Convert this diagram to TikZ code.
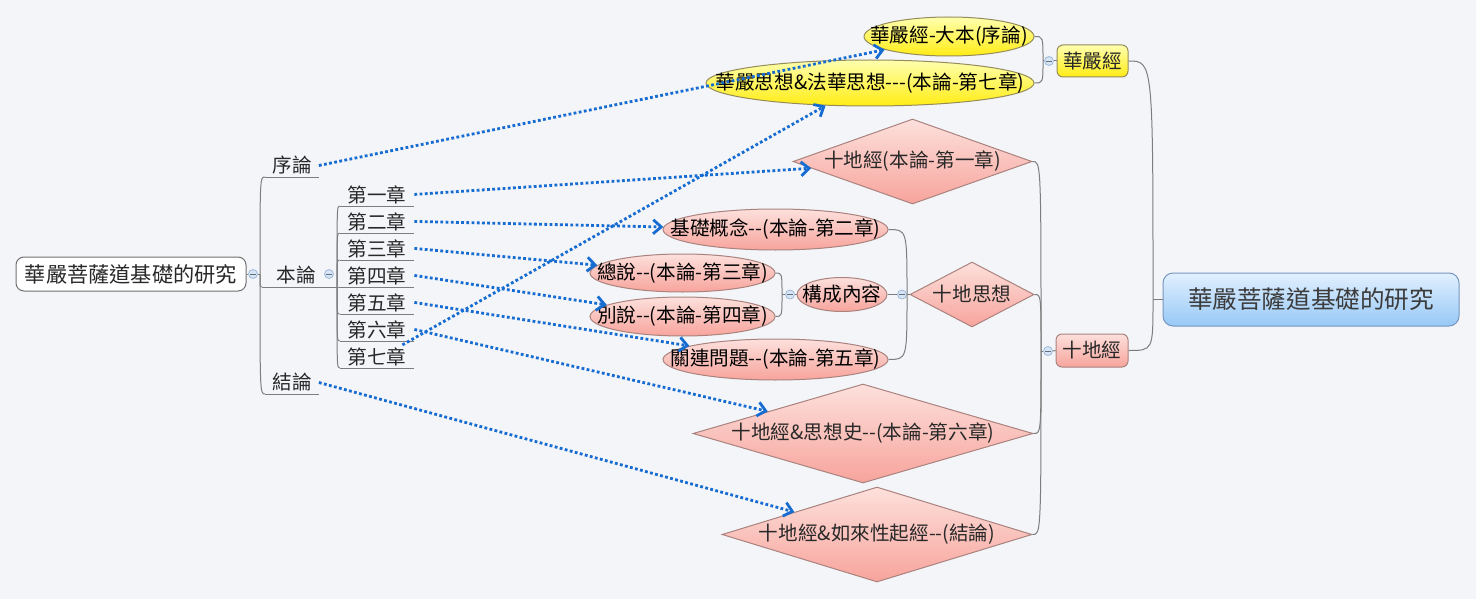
\documentclass[tikz,border=0pt]{standalone}
\usepackage{fontspec}
\setmainfont{Noto Sans CJK TC}
\usetikzlibrary{shapes.geometric, arrows.meta}
\definecolor{paper}{RGB}{243,245,249}
\definecolor{twig}{RGB}{125,125,125}
\definecolor{ink}{RGB}{40,40,40}
\definecolor{xlink}{RGB}{22,108,208}
\definecolor{rosetop}{RGB}{253,224,220}
\definecolor{rosebot}{RGB}{247,164,156}
\definecolor{roseline}{RGB}{170,130,126}
\definecolor{lemontop}{RGB}{255,255,175}
\definecolor{lemonbot}{RGB}{255,236,20}
\definecolor{lemonline}{RGB}{150,140,90}
\definecolor{skytop}{RGB}{226,240,255}
\definecolor{skybot}{RGB}{150,200,246}
\definecolor{skyline}{RGB}{120,150,190}
\definecolor{knobfill}{RGB}{214,228,244}
\definecolor{knobline}{RGB}{160,186,218}
\newcommand{\cjktext}[1]{\makebox[0pt]{#1}}
\newcommand{\hyph}{\mbox{-}}
\tikzset{
  twig/.style={draw=twig, line width=0.5pt},
  topic/.style={anchor=south, inner sep=1pt, text=ink, font=\fontsize{9.8}{11}\selectfont},
  knob/.style={circle, draw=knobline, fill=knobfill, line width=0.4pt, minimum size=4.5pt, inner sep=0pt,
    path picture={\draw[knobline!60!black, line width=0.4pt]
      ([xshift=-1.3pt]path picture bounding box.center) -- ([xshift=1.3pt]path picture bounding box.center);}},
  plainbox/.style={draw=twig!90!black, fill=white, rounded corners=4pt, inner sep=0pt, text=ink, line width=0.5pt},
  skybox/.style={draw=skyline, top color=skytop, bottom color=skybot, rounded corners=5pt, inner sep=0pt, line width=0.5pt},
  lemonbox/.style={draw=lemonline, top color=lemontop, bottom color=lemonbot, rounded corners=3pt, inner sep=0pt,
    minimum width=35.5pt, minimum height=16pt, text=ink, line width=0.5pt, font=\fontsize{9.8}{11}\selectfont},
  rosebox/.style={draw=roseline, top color=rosetop, bottom color=rosebot, rounded corners=3pt, inner sep=0pt,
    minimum width=36pt, minimum height=16.5pt, text=ink, line width=0.5pt, font=\fontsize{9.8}{11}\selectfont},
  lemonball/.style={ellipse, draw=lemonline, top color=lemontop, bottom color=lemonbot, inner sep=0pt,
    text=black, line width=0.5pt, font=\fontsize{9.8}{11}\selectfont},
  roseball/.style={ellipse, draw=roseline, top color=rosetop, bottom color=rosebot, inner sep=0pt,
    text=black, line width=0.5pt, font=\fontsize{9.8}{11}\selectfont},
  rosegem/.style={diamond, draw=roseline, top color=rosetop, bottom color=rosebot, inner sep=0pt,
    text=ink, line width=0.5pt, font=\fontsize{9.8}{11}\selectfont},
  xref/.style={draw=xlink, line width=1.4pt, dash pattern=on 1.4pt off 1.2pt,
    -{Straight Barb[length=4pt, width=7pt]}}
}
\begin{document}
\begin{tikzpicture}[x=0.5pt, y=-0.5pt]
  % paper
  \fill[paper] (0,0) rectangle (1476,599);
  \useasboundingbox (0,0) rectangle (1476,599);

  % left root and its three parts
  \node[plainbox, minimum width=115pt, minimum height=17pt, font=\fontsize{10.6}{12}\selectfont] (lroot) at (131,274) {華嚴菩薩道基礎的研究};
  \node[knob] (m1) at (253,274) {};
  \coordinate (jL) at (260,274);
  \node[topic, minimum width=26.5pt] (xu) at (292,177) {序論};
  \node[topic, minimum width=34pt] (bl) at (296,287) {本論};
  \node[topic, minimum width=26.5pt] (jie) at (292,394) {結論};
  \node[knob] (m2) at (329,274) {};
  \coordinate (jC) at (337,287);
  \foreach \n/\t/\y in {1/第一章/206, 2/第二章/233, 3/第三章/260, 4/第四章/287, 5/第五章/314, 6/第六章/341, 7/第七章/368} {
    \node[topic, minimum width=37pt] (ch\n) at (377,\y) {\t};
    \draw[twig] (ch\n.south west) -- (ch\n.south east);
    \draw[twig] (jC) .. controls (337,\y) .. (ch\n.south west);
  }
  \foreach \p in {xu, bl, jie} {
    \draw[twig] (\p.south west) -- (\p.south east);
    \draw[twig] (jL) .. controls (260,|-\p.south) .. (\p.south west);
  }
  \draw[twig] (lroot.east) -- (m1.west);
  \draw[twig] (m1.east) -- (jL);
  \draw[twig] (bl.south east) -- (jC);

  % right root
  \node[skybox, minimum width=148pt, minimum height=26.5pt, text={rgb,255:red,60;green,60;blue,60}, font=\fontsize{12.3}{14}\selectfont] (rroot) at (1311,299.5) {華嚴菩薩道基礎的研究};
  \coordinate (jR) at (1153,299.5);
  \node[lemonbox] (hy) at (1092.5,61) {華嚴經};
  \node[rosebox] (sd) at (1092,350.5) {十地經};
  \draw[twig] (rroot.west) -- (jR);
  \draw[twig] (jR) .. controls (1153,61) .. (hy.east);
  \draw[twig] (jR) .. controls (1153,350.5) .. (sd.east);

  % 華嚴經 branch
  \node[knob] (m5) at (1049,61) {};
  \coordinate (jH) at (1043,61);
  \node[lemonball, minimum width=85pt, minimum height=19.5pt] (e1) at (949,36.5) {\cjktext{華嚴經-大本(序論)}};
  \node[lemonball, minimum width=164pt, minimum height=23pt] (e2) at (870,83) {\cjktext{華嚴思想\&法華思想\hyph\hyph\hyph(本論-第七章)}};
  \draw[twig] (hy.west) -- (m5.east);
  \draw[twig] (m5.west) -- (jH);
  \draw[twig] (jH) .. controls (1043,36.5) .. (e1.east);
  \draw[twig] (jH) .. controls (1043,83) .. (e2.east);

  % 十地經 branch
  \node[knob] (m6) at (1048,351) {};
  \coordinate (jS) at (1041,351);
  \node[rosegem, minimum width=119.5pt, minimum height=42.5pt] (d1) at (912.5,161.5) {\cjktext{十地經(本論-第一章)}};
  \node[rosegem, minimum width=62pt, minimum height=32.5pt] (d2) at (972,294.5) {\cjktext{十地思想}};
  \node[rosegem, minimum width=170pt, minimum height=49.5pt] (d3) at (863,433.5) {\cjktext{十地經\&思想史\hyph\hyph(本論-第六章)}};
  \node[rosegem, minimum width=155pt, minimum height=47.5pt] (d4) at (877,534.5) {\cjktext{十地經\&如來性起經\hyph\hyph(結論)}};
  \draw[twig] (sd.west) -- (m6.east);
  \draw[twig] (m6.west) -- (jS);
  \foreach \d in {d1, d2, d3, d4}
    \draw[twig] (jS) .. controls (1041,|-\d.east) .. (\d.east);

  % 十地思想 branch
  \node[knob] (m4) at (902,294.5) {};
  \coordinate (jD) at (907,294.5);
  \node[roseball, minimum width=112.5pt, minimum height=20.5pt] (e3) at (775.5,229.5) {\cjktext{基礎概念\hyph\hyph(本論-第二章)}};
  \node[roseball, minimum width=45pt, minimum height=17pt] (e4) at (842,294.5) {\cjktext{構成內容}};
  \node[roseball, minimum width=112.5pt, minimum height=20.5pt] (e5) at (775.5,359.5) {\cjktext{關連問題\hyph\hyph(本論-第五章)}};
  \draw[twig] (d2.west) -- (m4.east);
  \draw[twig] (m4.west) -- (e4.east);
  \draw[twig] (jD) .. controls (907,229.5) .. (e3.east);
  \draw[twig] (jD) .. controls (907,359.5) .. (e5.east);

  % 構成內容 branch
  \node[knob] (m3) at (790,294.5) {};
  \coordinate (jK) at (782,294.5);
  \node[roseball, minimum width=92.5pt, minimum height=19pt] (e6) at (682.5,273) {\cjktext{總說\hyph\hyph(本論-第三章)}};
  \node[roseball, minimum width=92.5pt, minimum height=19.5pt] (e7) at (682.5,316.5) {\cjktext{別說\hyph\hyph(本論-第四章)}};
  \draw[twig] (e4.west) -- (m3.east);
  \draw[twig] (m3.west) -- (jK);
  \draw[twig] (jK) .. controls (782,273) .. (e6.east);
  \draw[twig] (jK) .. controls (782,316.5) .. (e7.east);

  % cross references
  \draw[xref] (xu.east) -- (e1);
  \draw[xref] (ch1.east) -- (d1);
  \draw[xref] (ch2.east) -- (e3);
  \draw[xref] (ch3.east) -- (e6);
  \draw[xref] (ch4.east) -- (e7);
  \draw[xref] (ch5.east) -- (e5);
  \draw[xref] (ch6.east) -- (d3);
  \draw[xref] ([xshift=-6pt]ch7.north east) -- (e2.207);
  \draw[xref] (jie.east) -- (d4);
\end{tikzpicture}
\end{document}
